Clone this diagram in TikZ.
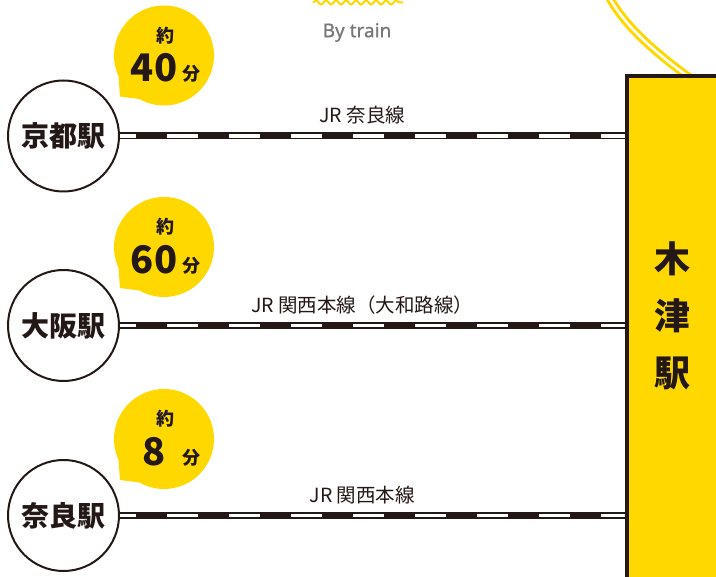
\documentclass[tikz,border=0pt]{standalone}
\usepackage{fontspec}
\setmainfont{Noto Sans CJK JP}
\newfontfamily\latinsans[FakeBold=0.8]{Noto Sans}
\usetikzlibrary{decorations.pathmorphing}
\definecolor{kizuyellow}{HTML}{FFD800}
\definecolor{inkdark}{HTML}{231815}
\definecolor{traingray}{HTML}{777777}

\begin{document}
\begin{tikzpicture}[x=1pt,y=-1pt,
    station/.style={circle,draw=inkdark,line width=2pt,fill=white,minimum size=111pt,inner sep=0pt,text=inkdark,font=\fontsize{28}{30}\selectfont\bfseries},
    balloon/.style={circle,fill=kizuyellow,minimum size=100pt,inner sep=0pt},
    track/.style={draw=inkdark,line width=7pt,postaction={draw=white,line width=3.5pt,dash pattern=on 31pt off 31pt,dash phase=15pt}},
    linename/.style={text=inkdark,inner sep=0pt,font=\fontsize{19.5}{21}\selectfont},
    kizubox/.style={rectangle,draw=inkdark,line width=4pt,fill=kizuyellow,minimum width=130pt,minimum height=540pt,anchor=north west}]
    \useasboundingbox (0,0) rectangle (716,577);

    \draw[kizuyellow,line width=3pt,double=white,double distance=2.5pt] (608,-5) .. controls (622,22) and (650,50) .. (700,85);
    \draw[kizuyellow,line width=2pt,decorate,decoration={snake,segment length=10pt,amplitude=2pt}] (313,2.5) -- (403,2.5);
    \node[text=traingray,font=\latinsans\fontsize{19}{21}\selectfont] (bytrain) at (357,32.5) {By train};

    \node[kizubox] (kizu) at (625,74) {};
    \node[align=center,text=inkdark,inner sep=0pt,font=\fontsize{36}{57}\selectfont\bfseries] (kizuname) at (672.5,316) {木\\津\\駅};

    \foreach \name/\station/\ty/\by/\mins/\line in {kyoto/京都駅/136/55.5/40/JR 奈良線,osaka/大阪駅/325.5/247/60/JR 関西本線（大和路線）,nara/奈良駅/515.5/439/8/JR 関西本線}{
        \node[balloon] (t\name) at (164,\by) {};
        \coordinate (tip\name) at ([shift={(-44,41)}]t\name.center);
        \fill[kizuyellow] (t\name.205) -- (tip\name) -- (t\name.240) -- (t\name.center) -- cycle;
        \node[text=inkdark,inner sep=0pt,font=\fontsize{18}{20}\selectfont\bfseries] (about\name) at ([shift={(1.5,-20)}]t\name.center) {約};
        \node[text=inkdark,inner sep=0pt,font=\fontsize{38}{40}\selectfont\bfseries] (num\name) at ([shift={(-10,12.5)}]t\name.center) {\mins};
        \node[text=inkdark,inner sep=0pt,font=\fontsize{18}{20}\selectfont\bfseries] (min\name) at ([shift={(27,18.5)}]t\name.center) {分};
        \node[station] (s\name) at (63.5,\ty) {\station};
        \draw[track] (s\name.east) -- node[linename,pos=0.48,yshift=20.5pt] (l\name) {\line} (s\name.east -| kizu.west);
    }
\end{tikzpicture}
\end{document}
